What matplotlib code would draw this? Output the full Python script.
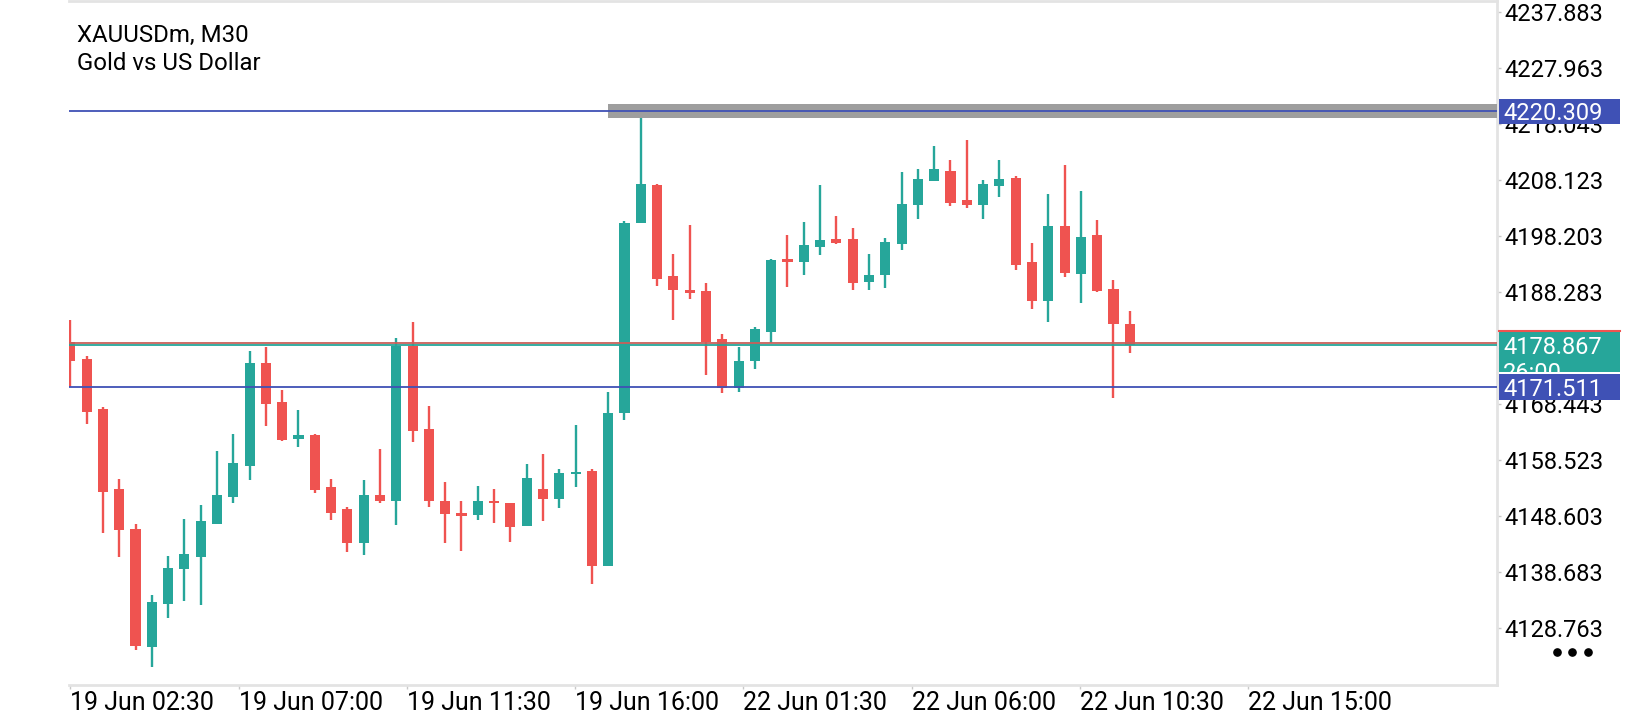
import matplotlib
matplotlib.use('Agg')
import matplotlib.pyplot as plt
from matplotlib.patches import Rectangle
from matplotlib.lines import Line2D
from matplotlib.transforms import blended_transform_factory

plt.rcParams['font.family'] = ['Roboto', 'DejaVu Sans']

# ---------------- data (XAUUSDm, M30) ----------------
opens = [4179.4, 4176.4, 4167.6, 4153.4, 4146.3, 4125.5, 4133.1, 4139.3, 4141.4, 4147.3,
         4152.0, 4157.5, 4175.7, 4168.8, 4162.3, 4163.0, 4153.7, 4149.9, 4143.9, 4152.3,
         4151.3, 4178.8, 4164.0, 4151.2, 4149.1, 4148.8, 4151.1, 4150.9, 4146.9, 4153.4,
         4151.6, 4156.0, 4156.6, 4139.8, 4166.8, 4200.5, 4207.2, 4191.1, 4188.6, 4188.4,
         4179.9, 4171.2, 4176.1, 4181.2, 4194.1, 4193.5, 4196.3, 4197.6, 4197.7, 4190.1,
         4191.2, 4196.8, 4203.7, 4207.9, 4209.7, 4204.6, 4203.7, 4207.0, 4208.5, 4193.5,
         4186.7, 4199.9, 4191.5, 4198.4, 4188.8, 4182.6]
highs = [4183.4, 4176.9, 4167.9, 4155.1, 4147.3, 4134.6, 4141.5, 4148.1, 4150.6, 4160.1,
         4163.1, 4177.8, 4178.6, 4170.9, 4167.4, 4163.1, 4155.2, 4150.3, 4155.0, 4160.5,
         4180.1, 4183.0, 4168.1, 4154.7, 4151.3, 4153.9, 4153.4, 4150.9, 4157.8, 4159.6,
         4156.9, 4164.7, 4156.9, 4170.5, 4200.8, 4219.0, 4207.4, 4195.0, 4200.1, 4189.9,
         4180.8, 4178.6, 4182.0, 4194.1, 4198.4, 4200.6, 4207.2, 4201.7, 4199.6, 4195.0,
         4197.8, 4209.6, 4210.0, 4214.1, 4211.6, 4215.2, 4208.1, 4211.6, 4208.8, 4196.9,
         4205.7, 4210.8, 4206.1, 4201.1, 4190.4, 4184.9]
lows = [4171.5, 4165.0, 4145.6, 4141.3, 4125.0, 4121.9, 4130.5, 4133.5, 4132.8, 4147.3,
        4151.0, 4155.0, 4164.6, 4161.9, 4160.9, 4152.7, 4147.9, 4142.3, 4141.7, 4151.0,
        4147.0, 4161.8, 4150.3, 4143.8, 4142.5, 4148.0, 4147.4, 4144.1, 4146.9, 4147.8,
        4150.1, 4153.7, 4136.6, 4139.8, 4165.6, 4200.5, 4189.4, 4183.3, 4187.0, 4173.6,
        4170.4, 4170.6, 4174.6, 4179.3, 4189.2, 4191.2, 4194.8, 4196.8, 4188.6, 4188.6,
        4189.0, 4195.7, 4201.2, 4207.9, 4203.5, 4203.2, 4201.2, 4205.1, 4192.2, 4185.3,
        4183.0, 4191.0, 4186.4, 4188.2, 4169.6, 4177.4]
closes = [4176.1, 4167.1, 4152.9, 4146.2, 4125.7, 4133.4, 4139.4, 4141.9, 4147.7, 4152.3,
          4158.0, 4175.7, 4168.5, 4162.1, 4163.0, 4153.2, 4149.2, 4143.9, 4152.3, 4151.3,
          4178.8, 4163.6, 4151.2, 4149.0, 4148.7, 4151.2, 4150.9, 4146.7, 4155.3, 4151.7,
          4156.3, 4156.5, 4139.7, 4166.8, 4200.5, 4207.4, 4190.6, 4188.6, 4188.1, 4179.5,
          4171.2, 4176.1, 4181.7, 4193.9, 4193.5, 4196.6, 4197.5, 4197.0, 4189.8, 4191.3,
          4197.1, 4203.8, 4208.3, 4210.0, 4204.1, 4203.7, 4207.4, 4208.3, 4193.1, 4186.7,
          4199.9, 4191.7, 4198.0, 4188.5, 4182.7, 4178.867]

y_ticks = [4128.763, 4138.683, 4148.603, 4158.523, 4168.443, 4178.363,
           4188.283, 4198.203, 4208.123, 4218.043, 4227.963, 4237.883]
x_labels = ['19 Jun 02:30', '19 Jun 07:00', '19 Jun 11:30', '19 Jun 16:00',
            '22 Jun 01:30', '22 Jun 06:00', '22 Jun 10:30', '22 Jun 15:00']
level_high = 4220.309
level_low = 4171.511
bid = 4178.867
ask = 4179.28
countdown = '26:00'
title1 = 'XAUUSDm, M30'
title2 = 'Gold vs US Dollar'

UP = '#26A69A'
DOWN = '#EF5350'
BLUE = '#3F51B5'
GRID = '#E3E3E3'

W, H = 1640, 720
fig = plt.figure(figsize=(W / 100, H / 100), dpi=100)
ax = fig.add_axes([69 / W, 35 / H, (1497 - 69) / W, 684 / H])
ax.set_xlim(-0.08, 87.53)
ax.set_ylim(4118.72, 4239.78)

# candles
n = len(opens)
xs = list(range(n))
cols = [UP if c >= o else DOWN for o, c in zip(opens, closes)]
ax.vlines(xs, lows, highs, colors=cols, linewidth=1.7, zorder=2)
bottoms = [min(o, c) for o, c in zip(opens, closes)]
heights = [max(abs(c - o), 0.38) for o, c in zip(opens, closes)]
ax.bar(xs, heights, bottom=bottoms, width=0.62, color=cols, linewidth=0, zorder=3)

# levels
ax.fill_between([33, 87.53], level_high - 1.25, level_high + 1.25, color='#9E9E9E',
                linewidth=0, zorder=4)
ax.axhline(level_high, color=BLUE, linewidth=1.3, zorder=5)
ax.axhline(level_low, color=BLUE, linewidth=1.3, zorder=5)
ax.axhline(ask, color='#C8605A', linewidth=1.3, zorder=5)
ax.axhline(bid, color=UP, linewidth=1.3, zorder=5)

# axes styling
ax.spines['left'].set_visible(False)
for s in ['top', 'bottom', 'right']:
    ax.spines[s].set_color(GRID)
    ax.spines[s].set_linewidth(2.0)
ax.yaxis.tick_right()
ax.set_yticks(y_ticks)
ax.set_yticklabels([f'{v:.3f}' for v in y_ticks])
ax.tick_params(axis='y', length=3, width=1, color='#C8C8C8', pad=2, labelsize=17,
               labelcolor='black')
tick_step = 168.3 / 16.3
ax.set_xticks([k * tick_step for k in range(len(x_labels))])
ax.set_xticklabels(x_labels)
ax.tick_params(axis='x', length=3, width=1, color='#C8C8C8', pad=1.5, labelsize=18,
               labelcolor='black')
for lbl in ax.get_xticklabels():
    lbl.set_ha('left')

# price labels on right axis
tr = blended_transform_factory(fig.transFigure, ax.transData)
bx0 = 1499 / W
bw = 121 / W
ppx = 684 / (4239.78 - 4118.72)  # pixels per price unit


def box(price_top, price_bot, color, z):
    r = Rectangle((bx0, price_bot), bw, price_top - price_bot, transform=tr,
                  facecolor=color, edgecolor='none', clip_on=False, zorder=z)
    ax.add_artist(r)


# upper level label
box(level_high + 12.5 / ppx, level_high - 12.5 / ppx, BLUE, 10)
ax.text(1503 / W, level_high, f'{level_high:.3f}', transform=tr, color='white',
        fontsize=17, va='center_baseline', ha='left', zorder=11, clip_on=False)
# bid label (two lines)
box(bid + 14.5 / ppx, bid - 27 / ppx, UP, 12)
ax.add_artist(Line2D([bx0, bx0 + bw], [bid + 13.8 / ppx] * 2, transform=tr,
                     color=DOWN, linewidth=1.5, clip_on=False, zorder=12.5))
ax.text(1503 / W, bid, f'{bid:.3f}', transform=tr, color='white',
        fontsize=17, va='center_baseline', ha='left', zorder=13, clip_on=False)
ax.text(1503 / W, bid - 26 / ppx, countdown, transform=tr, color='white',
        fontsize=17, va='center_baseline', ha='left', zorder=13, clip_on=False)
# lower level label
box(level_low + 13 / ppx, level_low - 13 / ppx, BLUE, 14)
ax.text(1503 / W, level_low, f'{level_low:.3f}', transform=tr, color='white',
        fontsize=17, va='center_baseline', ha='left', zorder=15, clip_on=False)

# header
fig.text(76.7 / W, 1 - 41.7 / H, title1, fontsize=17.3, va='baseline', ha='left')
fig.text(76.7 / W, 1 - 70 / H, title2, fontsize=17.3, va='baseline', ha='left')

# menu dots
fig.add_artist(Line2D([1557 / W, 1572.5 / W, 1588 / W], [1 - 652 / H] * 3,
                      transform=fig.transFigure, marker='o', linestyle='none',
                      markersize=5.2, color='black'))

fig.savefig('out.png', dpi=100, facecolor='white')
